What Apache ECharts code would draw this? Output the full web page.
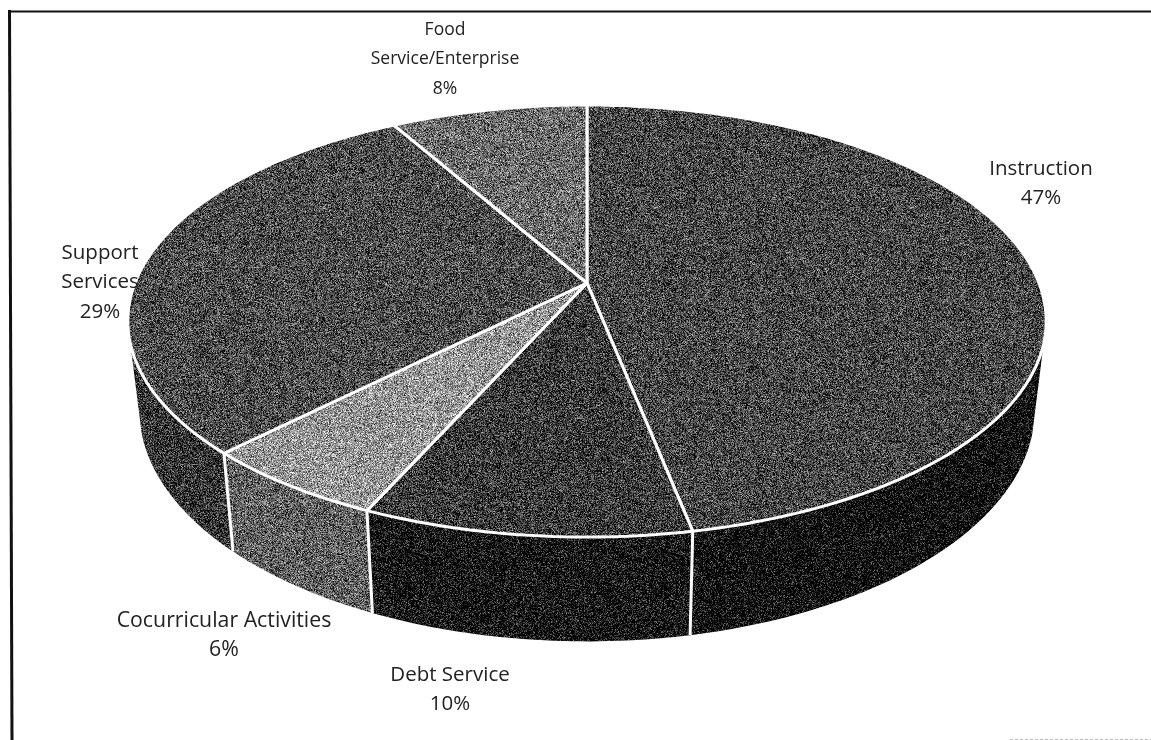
<!DOCTYPE html>
<html>
<head>
<meta charset="utf-8">
<title>Expenditures by function</title>
<script src="https://cdn.jsdelivr.net/npm/echarts@6/dist/echarts.min.js"></script>
<style>
  html, body { margin: 0; padding: 0; background: #fff; }
  #chartId { width: 1151px; height: 740px; }
</style>
</head>
<body>
<div id="chartId"></div>
<script>
// chart data, clockwise from 12 o'clock
var categories = ['Instruction', 'Debt Service', 'Cocurricular Activities', 'Support\nServices', 'Food\nService/Enterprise'];
var values = [46.9, 9.8, 5.7, 29.4, 8.2];

// mean grey of the scanned halftone, per slice
var topTones = [70, 58, 150, 76, 108];
var sideTones = [8, 16, 96, 52, 52];

// label anchors: centre x, top y, font size
var labelX = [1041, 450, 224, 100, 445];
var labelY = [154, 660, 606, 238, 15];
var labelSize = [20.5, 20.5, 21.3, 20.5, 17.5];

// projection of the tilted disc
var cx = 587, cy = 283, radius = 452, persp = -0.176, tilt = 159.5;
var depth = 86, bottomScale = 0.975;
// angles where the side wall becomes visible
var visibleFrom = 106, visibleTo = 254;

var total = values.reduce(function (a, b) { return a + b; }, 0);

function sliceRange(i) {
  var start = 0;
  for (var k = 0; k < i; k++) {
    start += values[k];
  }
  return [start / total * 360, (start + values[i]) / total * 360];
}

function project(deg, bottom) {
  var rad = deg * Math.PI / 180;
  var u = Math.sin(rad), v = -Math.cos(rad);
  var den = 1 + persp * v;
  var r = bottom ? radius * bottomScale : radius;
  return [cx + r * u / den, (tilt * v + cy + (bottom ? depth : 0)) / den];
}

function arc(from, to, bottom) {
  var pts = [];
  var steps = Math.max(2, Math.ceil(Math.abs(to - from)));
  for (var i = 0; i <= steps; i++) {
    pts.push(project(from + (to - from) * i / steps, bottom));
  }
  return pts;
}

// noise tile, deterministic, gives the photocopied speckle
var tileCache = {};
function speckle(tone) {
  if (tileCache[tone]) {
    return tileCache[tone];
  }
  var size = 256;
  var canvas = document.createElement('canvas');
  canvas.width = canvas.height = size;
  var ctx = canvas.getContext('2d');
  var img = ctx.createImageData(size, size);
  var seed = 12345 + tone * 7;
  function next() {
    seed = (seed * 1664525 + 1013904223) % 4294967296;
    return seed / 4294967296;
  }
  for (var i = 0; i < size * size; i++) {
    var g = tone + (next() + next() + next() - 1.5) * 95;
    g = Math.max(0, Math.min(255, g));
    img.data[i * 4] = img.data[i * 4 + 1] = img.data[i * 4 + 2] = g;
    img.data[i * 4 + 3] = 255;
  }
  ctx.putImageData(img, 0, 0);
  tileCache[tone] = { image: canvas, repeat: 'repeat' };
  return tileCache[tone];
}

function renderSide(params) {
  var i = params.dataIndex;
  var range = sliceRange(i);
  var from = Math.max(range[0], visibleFrom), to = Math.min(range[1], visibleTo);
  if (to <= from) {
    return;
  }
  var pts = arc(from, to, false).concat(arc(to, from, true));
  return {
    type: 'polygon',
    shape: { points: pts },
    style: { fill: speckle(sideTones[i]) }
  };
}

function renderTop(params) {
  var i = params.dataIndex;
  var range = sliceRange(i);
  var pts = [[cx, cy]].concat(arc(range[0], range[1], false));
  var children = [];
  // white seam down the wall at the end of the slice
  if (range[1] > visibleFrom && range[1] < visibleTo) {
    var a = project(range[1], false), b = project(range[1], true);
    children.push({
      type: 'line',
      shape: { x1: a[0], y1: a[1], x2: b[0], y2: b[1] },
      style: { stroke: '#fff', lineWidth: 3 }
    });
  }
  children.push({
    type: 'polygon',
    shape: { points: pts },
    style: { fill: speckle(topTones[i]), stroke: '#fff', lineWidth: 3, lineJoin: 'bevel' }
  });
  return { type: 'group', children: children };
}

function renderLabel(params) {
  var i = params.dataIndex;
  return {
    type: 'text',
    style: {
      x: labelX[i],
      y: labelY[i],
      text: categories[i] + '\n' + Math.round(values[i]) + '%',
      fill: '#222',
      font: labelSize[i] + 'px "Open Sans"',
      lineHeight: 29.5,
      align: 'center',
      verticalAlign: 'top'
    }
  };
}

var myChart = echarts.init(document.getElementById('chartId'));

var option = {
  animation: false,
  backgroundColor: '#fff',
  graphic: [
    // frame of the scanned page
    { type: 'line', z: 10, shape: { x1: 8, y1: 11.5, x2: 1151, y2: 11.5 }, style: { stroke: '#111', lineWidth: 2 } },
    { type: 'line', z: 10, shape: { x1: 9.5, y1: 10, x2: 12, y2: 740 }, style: { stroke: '#111', lineWidth: 3 } },
    { type: 'line', z: 10, shape: { x1: 1010, y1: 739.5, x2: 1151, y2: 739.5 }, style: { stroke: '#bbb', lineWidth: 1, lineDash: [3, 2] } }
  ],
  series: [
    { type: 'custom', coordinateSystem: 'none', z: 2, silent: true, data: values, renderItem: renderSide },
    { type: 'custom', coordinateSystem: 'none', z: 3, silent: true, data: values, renderItem: renderTop },
    { type: 'custom', coordinateSystem: 'none', z: 4, silent: true, data: values, renderItem: renderLabel }
  ]
};
myChart.setOption(option);
</script>
</body>
</html>
